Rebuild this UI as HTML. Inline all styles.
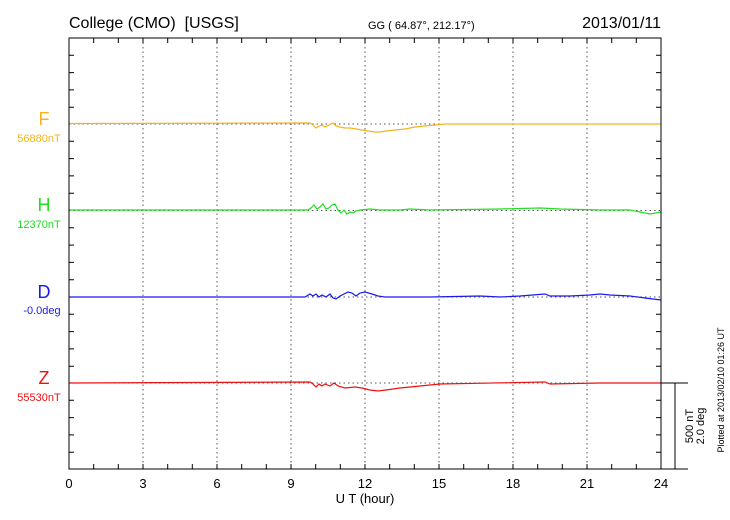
<!DOCTYPE html>
<html><head><meta charset="utf-8"><style>
html,body{margin:0;padding:0;background:#fff}
svg{display:block;font-family:"Liberation Sans",sans-serif}
</style></head><body>
<svg width="730" height="520" viewBox="0 0 730 520" xmlns="http://www.w3.org/2000/svg">
<rect width="730" height="520" fill="#fff"/>
<text x="69" y="28" font-size="16" fill="#000" style="white-space:pre">College (CMO)  [USGS]</text>
<text x="368" y="29" font-size="11" fill="#000">GG ( 64.87°, 212.17°)</text>
<text x="661" y="28" font-size="16" fill="#000" text-anchor="end">2013/01/11</text>
<g stroke="#555" stroke-width="1" stroke-dasharray="1.5,3">
<line x1="143" y1="38" x2="143" y2="469"/><line x1="217" y1="38" x2="217" y2="469"/>
<line x1="291" y1="38" x2="291" y2="469"/><line x1="365" y1="38" x2="365" y2="469"/>
<line x1="439" y1="38" x2="439" y2="469"/><line x1="513" y1="38" x2="513" y2="469"/>
<line x1="587" y1="38" x2="587" y2="469"/>
<line x1="69" y1="124" x2="661" y2="124"/><line x1="69" y1="210.5" x2="661" y2="210.5"/>
<line x1="69" y1="297" x2="661" y2="297"/><line x1="69" y1="383" x2="661" y2="383"/>
</g>
<g fill="none" stroke-width="1.2">
<polyline stroke="#f5b41e" points="69,123.5 310,123 313,125 316,128 319,126 322,125 325,127 329,125 333,123 336,126 340,127 345,128 350,128 356,129 362,130 368,131 375,132 380,132 386,131 395,130 405,129 415,127 425,126 435,125 445,124 661,124"/>
<polyline stroke="#22dd22" points="69,210 308,210 311,208 314,205 317,209 320,207 323,204 326,209 329,208 332,205 335,204 338,210 341,213 344,210 347,214 350,212 353,213 356,211 360,210 370,209 380,210 400,210 410,209 430,210 500,209 540,208 560,209 600,210 630,210 640,212 650,214 661,212"/>
<polyline stroke="#1a1aee" points="69,297 305,297 310,294 313,296 316,294 319,297 322,295 326,297 330,294 333,298 336,299 340,296 344,294 348,292 352,293 356,296 360,293 365,292 372,294 378,296 385,297 400,297 430,297 480,296 500,297 520,296 545,294 550,296 570,296 590,295 600,294 610,295 630,296 645,298 661,300"/>
<polyline stroke="#ee1111" points="69,383 310,382 313,384 316,387 319,384 322,386 325,384 330,386 334,383 338,386 345,388 355,387 362,388 370,390 378,391 386,390 400,388 420,386 440,384 545,382 550,384 600,383 661,383"/>
</g>
<rect x="69" y="38" width="592" height="431" fill="none" stroke="#000" stroke-width="1"/>
<g stroke="#000" stroke-width="1">
<path d="M93.7,38v5M118.3,38v5M143,38v5M167.7,38v5M192.3,38v5M217,38v5M241.7,38v5M266.3,38v5M291,38v5M315.7,38v5M340.3,38v5M365,38v5M389.7,38v5M414.3,38v5M439,38v5M463.7,38v5M488.3,38v5M513,38v5M537.7,38v5M562.3,38v5M587,38v5M611.7,38v5M636.3,38v5"/>
<path d="M93.7,469v-5M118.3,469v-5M143,469v-5M167.7,469v-5M192.3,469v-5M217,469v-5M241.7,469v-5M266.3,469v-5M291,469v-5M315.7,469v-5M340.3,469v-5M365,469v-5M389.7,469v-5M414.3,469v-5M439,469v-5M463.7,469v-5M488.3,469v-5M513,469v-5M537.7,469v-5M562.3,469v-5M587,469v-5M611.7,469v-5M636.3,469v-5"/>
<path d="M69,55.3h5M69,72.6h5M69,89.9h5M69,107.2h5M69,141.3h5M69,158.6h5M69,175.9h5M69,193.2h5M69,227.8h5M69,245.1h5M69,262.4h5M69,279.7h5M69,314.3h5M69,331.6h5M69,348.9h5M69,366.2h5M69,400.3h5M69,417.6h5M69,434.9h5M69,452.2h5"/>
<path d="M661,55.3h-5M661,72.6h-5M661,89.9h-5M661,107.2h-5M661,141.3h-5M661,158.6h-5M661,175.9h-5M661,193.2h-5M661,227.8h-5M661,245.1h-5M661,262.4h-5M661,279.7h-5M661,314.3h-5M661,331.6h-5M661,348.9h-5M661,366.2h-5M661,400.3h-5M661,417.6h-5M661,434.9h-5M661,452.2h-5"/>
<path d="M661,383h27M661,469h27M675,383v86"/>
</g>
<g font-size="13" text-anchor="middle">
<text x="69" y="488">0</text><text x="143" y="488">3</text><text x="217" y="488">6</text><text x="291" y="488">9</text><text x="365" y="488">12</text><text x="439" y="488">15</text><text x="513" y="488">18</text><text x="587" y="488">21</text><text x="661" y="488">24</text>
<text x="365" y="503">U T (hour)</text>
</g>
<g text-anchor="middle">
<text x="44" y="125" font-size="18" fill="#f5b41e">F</text><text x="39" y="142" font-size="11" fill="#f5b41e">56880nT</text>
<text x="44" y="211" font-size="18" fill="#22dd22">H</text><text x="39" y="228" font-size="11" fill="#22dd22">12370nT</text>
<text x="44" y="298" font-size="18" fill="#1a1aee">D</text><text x="42" y="314" font-size="11" fill="#1a1aee">-0.0deg</text>
<text x="44" y="384" font-size="18" fill="#ee1111">Z</text><text x="39" y="401" font-size="11" fill="#ee1111">55530nT</text>
</g>
<text transform="translate(693,426) rotate(-90)" font-size="11" text-anchor="middle">500 nT</text>
<text transform="translate(704,426) rotate(-90)" font-size="11" text-anchor="middle">2.0 deg</text>
<text transform="translate(724,390) rotate(-90)" font-size="9" text-anchor="middle">Plotted at 2013/02/10 01:26 UT</text>
</svg>
</body></html>
